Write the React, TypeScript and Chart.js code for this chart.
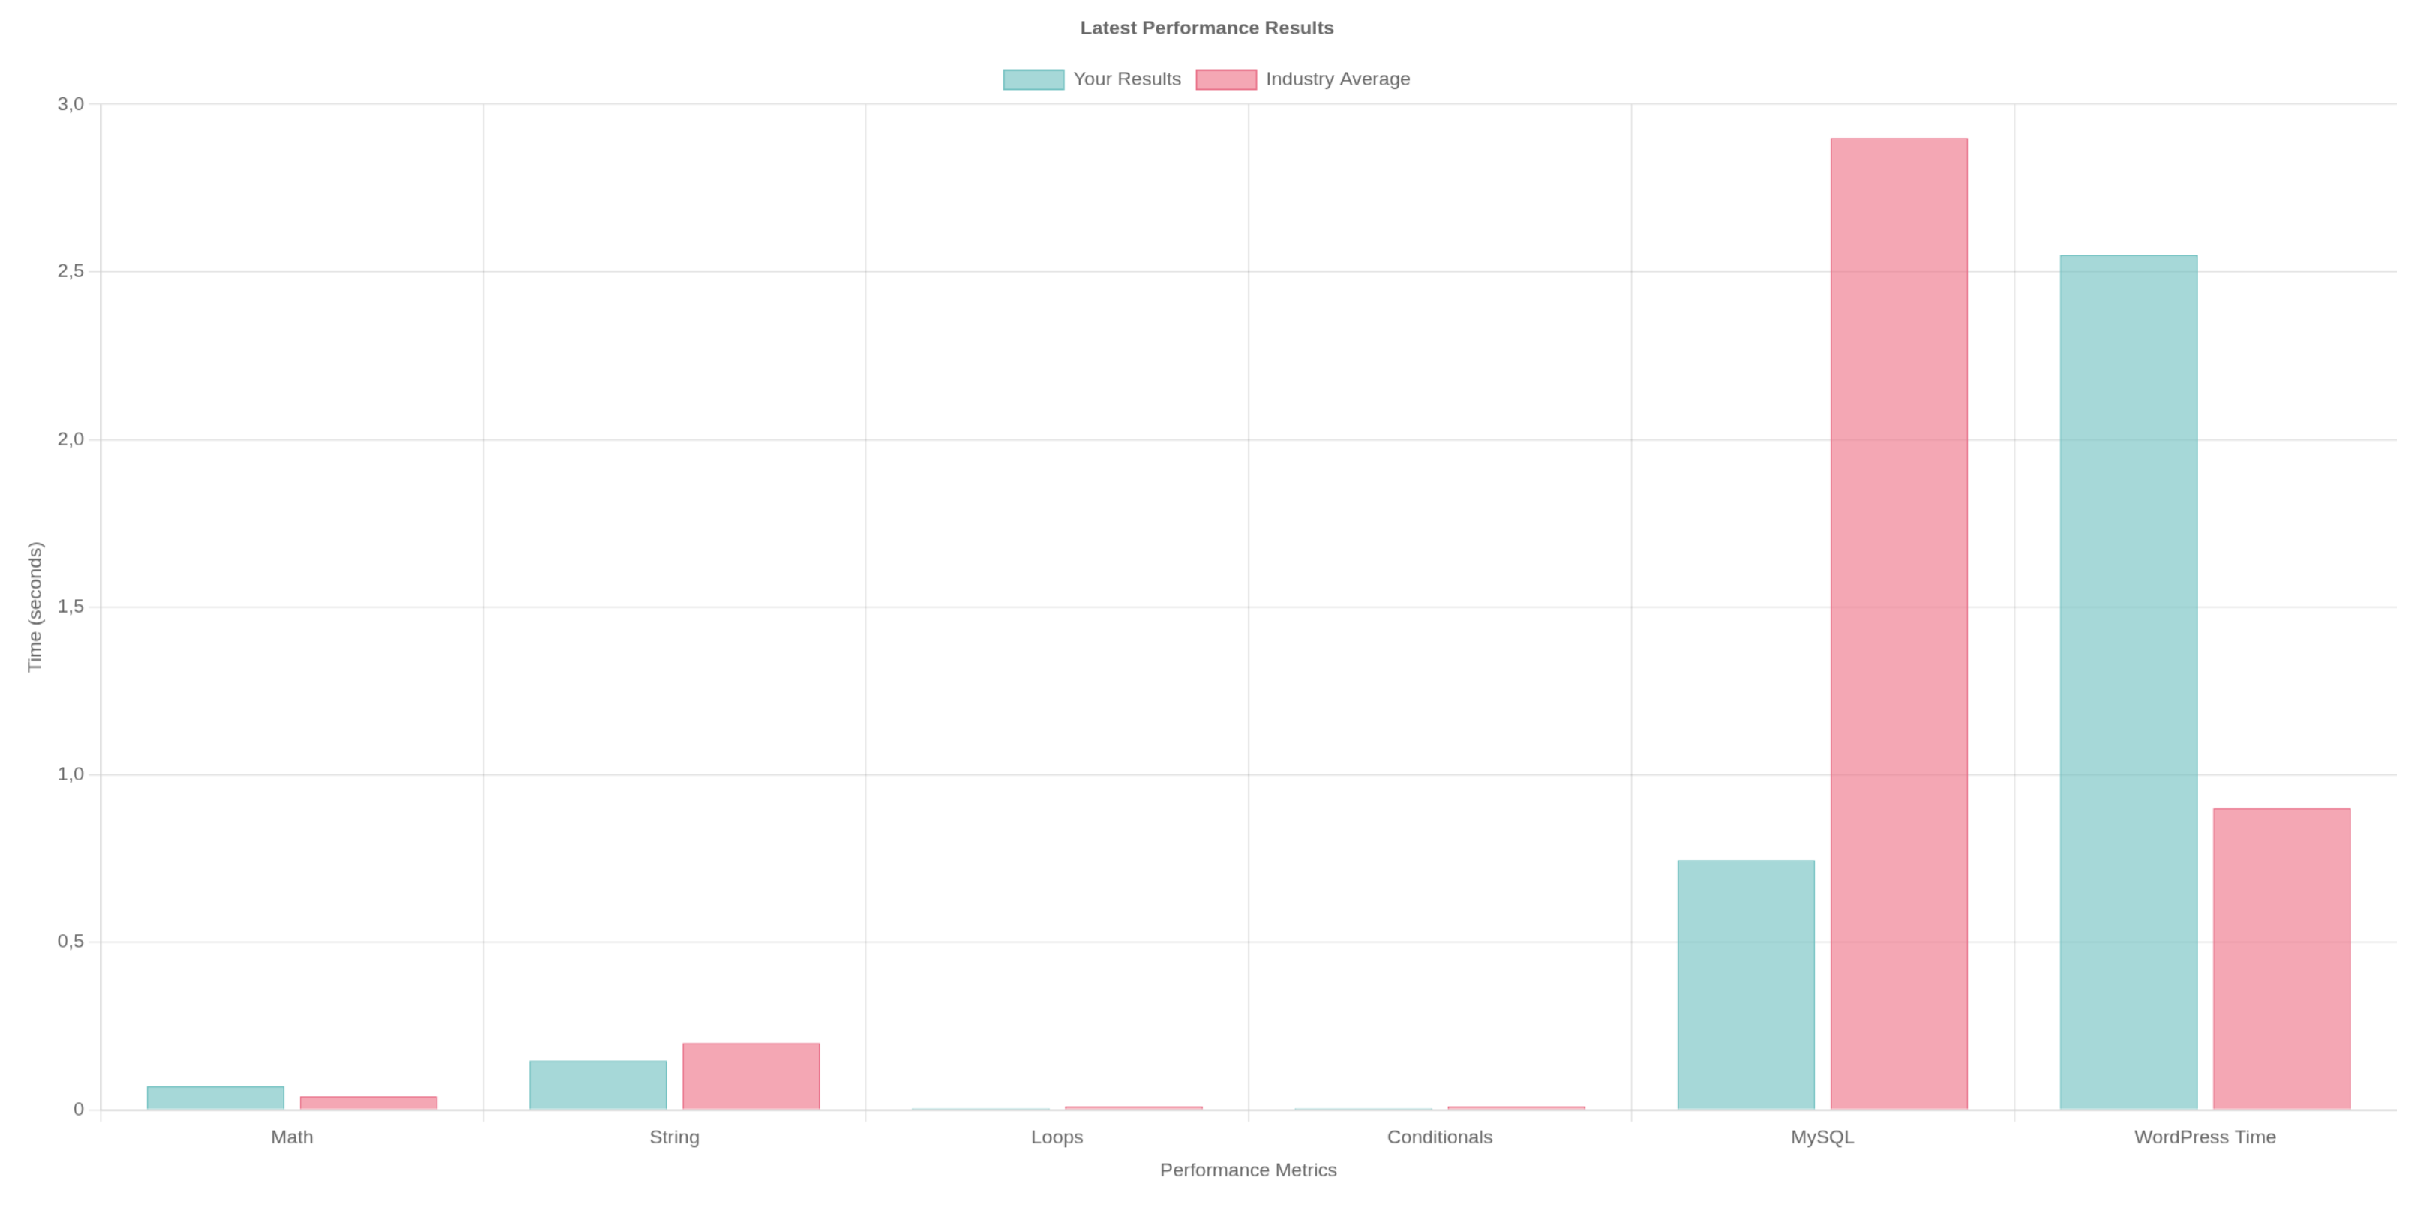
import React, { useEffect, useRef } from "react";
import { Chart, registerables } from "chart.js";

Chart.register(...registerables);

const categories = ["Math", "String", "Loops", "Conditionals", "MySQL", "WordPress Time"];
const yourResults = [0.07, 0.147, 0.005, 0.005, 0.745, 2.55];
const industryAverage = [0.04, 0.2, 0.01, 0.01, 2.9, 0.9];
const yTickValues = [0, 0.5, 1, 1.5, 2, 2.5, 3];

const chartTitle = "Latest Performance Results";
const seriesNames = ["Your Results", "Industry Average"];
const xTitle = "Performance Metrics";
const yTitle = "Time (seconds)";

const SCALE = 1.5;
const CSS_W = 1586;
const CSS_H = 791;
const FS = 12.8;
const GRID = "rgba(0,0,0,0.1)";

export default function App() {
  const ref = useRef<HTMLCanvasElement | null>(null);

  useEffect(() => {
    if (!ref.current) return;
    const font = "'Liberation Sans', Arial, Helvetica, sans-serif";
    Chart.defaults.font.family = font;
    Chart.defaults.font.size = FS;
    Chart.defaults.color = "#666";
    const chart = new Chart(ref.current, {
      type: "bar",
      data: {
        labels: categories,
        datasets: [
          {
            label: seriesNames[0],
            data: yourResults,
            backgroundColor: "rgba(107,190,190,0.6)",
            borderColor: "rgb(112,192,192)",
            borderWidth: 1,
          },
          {
            label: seriesNames[1],
            data: industryAverage,
            backgroundColor: "rgba(237,108,130,0.6)",
            borderColor: "rgb(232,112,136)",
            borderWidth: 1,
          },
        ],
      },
      options: {
        animation: false,
        responsive: false,
        maintainAspectRatio: false,
        devicePixelRatio: SCALE,
        plugins: {
          title: {
            display: true,
            text: chartTitle,
            color: "#666",
            font: { size: FS, weight: "bold" },
          },
          legend: {
            display: true,
            position: "top",
            labels: { color: "#666", font: { size: FS } },
          },
          tooltip: { enabled: false },
        },
        scales: {
          x: {
            title: { display: true, text: xTitle, color: "#666", font: { size: FS } },
            ticks: { color: "#666", font: { size: FS } },
            grid: {
              color: (ctx: any) => (ctx.type === "tick" ? GRID : "rgba(0,0,0,0)"),
            },
          },
          y: {
            beginAtZero: true,
            min: yTickValues[0],
            max: yTickValues[yTickValues.length - 1],
            ticks: {
              stepSize: yTickValues[1] - yTickValues[0],
              color: "#666",
              font: { size: FS },
              callback: (v: any) => {
                const n = Number(v);
                return n === 0 ? "0" : n.toFixed(1).replace(".", ",");
              },
            },
            title: { display: true, text: yTitle, color: "#666", font: { size: FS } },
            grid: { color: GRID },
          },
        },
      },
    });
    return () => chart.destroy();
  }, []);

  return (
    <div
      style={{
        position: "absolute",
        left: 18,
        top: 2,
        width: CSS_W,
        height: CSS_H,
        transform: `scale(${SCALE})`,
        transformOrigin: "0 0",
        background: "#fff",
      }}
    >
      <canvas ref={ref} width={CSS_W} height={CSS_H} />
    </div>
  );
}
